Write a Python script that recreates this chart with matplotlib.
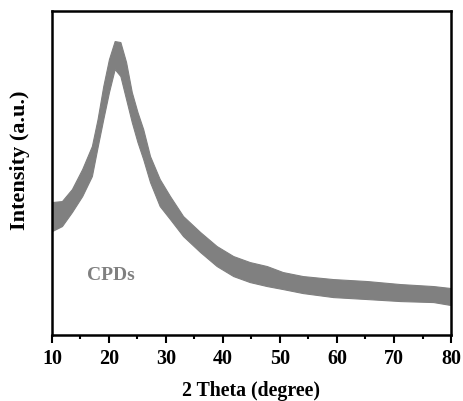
import numpy as np
import matplotlib.pyplot as plt

plt.rcParams['font.family'] = ['Liberation Serif', 'DejaVu Serif']
plt.rcParams['font.weight'] = 'bold'

# 2 theta positions (degree) where the band was read
two_theta = [10, 11.75, 13.5, 15.3, 17, 18, 19, 20, 21, 22, 23, 24, 25, 26,
             27.2, 28.9, 30.7, 33, 36, 38.9, 41.8, 44.7, 47.7, 50.5, 54, 59.3,
             65.3, 71.1, 76.9, 80]
# upper and lower edge of the noisy trace (a.u.)
upper = [1330, 1340, 1460, 1660, 1890, 2160, 2490, 2760, 2940, 2930, 2730, 2430,
         2230, 2060, 1790, 1560, 1390, 1190, 1030, 890, 790, 730, 690, 630,
         590, 560, 540, 510, 490, 470]
lower = [1040, 1090, 1230, 1390, 1590, 1880, 2160, 2430, 2660, 2590, 2360, 2130,
         1930, 1760, 1530, 1290, 1160, 990, 830, 690, 590, 530, 490, 460,
         420, 380, 360, 340, 330, 300]

grey = '#808080'

fig = plt.figure(figsize=(4.64, 4.02), dpi=100)
ax = fig.add_axes([0.112, 0.164, 0.860, 0.806])

ax.fill_between(two_theta, lower, upper, color=grey, lw=0.8, edgecolor=grey)

ax.text(20.3, 610, 'CPDs', color=grey, fontsize=14, fontweight='bold',
        ha='center', va='center')

ax.set_xlim(10, 80)
ax.set_ylim(0, 3240)
ax.set_xticks(np.arange(10, 81, 10))
ax.set_xticks(np.arange(15, 80, 10), minor=True)
ax.set_yticks([])
ax.tick_params(axis='x', which='major', direction='out', length=6, width=1.5,
               labelsize=14.5, pad=3)
ax.tick_params(axis='x', which='minor', direction='out', length=3, width=1.5)
for lab in ax.get_xticklabels():
    lab.set_fontweight('bold')
for s in ax.spines.values():
    s.set_linewidth(1.8)

ax.set_xlabel('2 Theta (degree)', fontsize=14.3, fontweight='bold', labelpad=9)
ax.set_ylabel('Intensity (a.u.)', fontsize=16, fontweight='bold')
ax.yaxis.set_label_coords(-0.055, 0.543)

plt.savefig('out.png', dpi=100)
